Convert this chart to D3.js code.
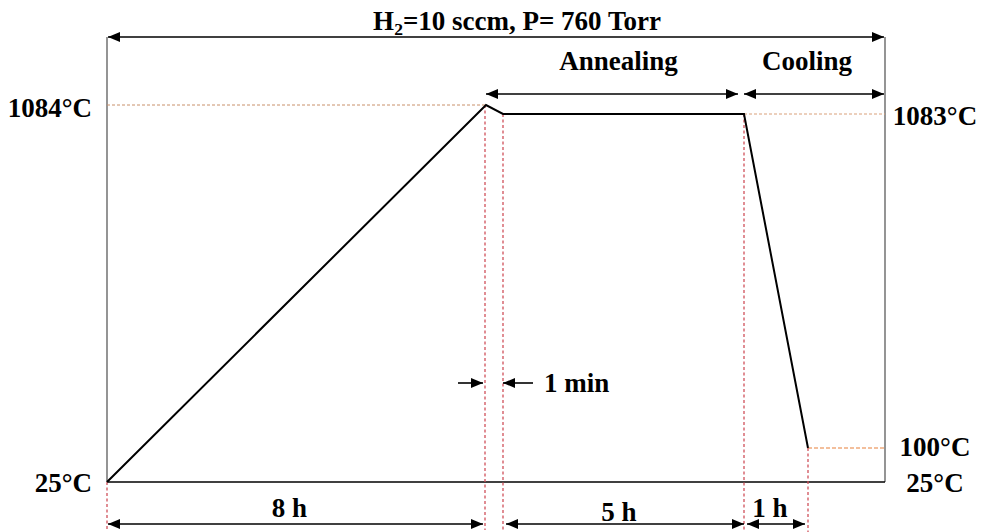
<!DOCTYPE html>
<html>
<head>
<meta charset="utf-8">
<script src="https://cdn.jsdelivr.net/npm/d3@7"></script>
<style>
  html, body { margin: 0; padding: 0; background: #fff; }
  svg { display: block; }
  text { font-family: "Liberation Serif", "Times New Roman", serif; font-weight: bold; fill: #000; }
</style>
</head>
<body>
<svg id="chart" width="986" height="532"></svg>
<script>
// Heating profile: elapsed time (min) and temperature (°C) at each break point
const times = [0, 480, 481, 781, 841];
const temps = [25, 1084, 1083, 1083, 100];

// Schematic (piecewise) axes: break points in data units
const timeBreaks = [0, 480, 481, 781, 841];
const tempBreaks = [25, 100, 1083, 1084];

// Labels
const title = ["H", "2", "=10 sccm, P= 760 Torr"];
const leftTempLabels = [{ t: 1084, text: "1084°C" }, { t: 25, text: "25°C" }];
const rightTempLabels = [{ t: 1083, text: "1083°C" }, { t: 100, text: "100°C" }, { t: 25, text: "25°C" }];
const phaseLabels = [
  { from: 480, to: 781, text: "Annealing" },
  { from: 781, to: null, text: "Cooling" }
];
const durationLabels = [
  { from: 0, to: 480, text: "8 h" },
  { from: 481, to: 781, text: "5 h" },
  { from: 781, to: 841, text: "1 h" }
];
const stepLabel = "1 min";

const svg = d3.select("#chart");
const fL = 107, fR = 885, fT = 37, fB = 482;

const x = d3.scaleLinear().domain(timeBreaks).range([fL, 486, 503, 744, 808]);
const y = d3.scaleLinear().domain(tempBreaks).range([fB, 448, 114, 105]);

const FS = 27;

// Arrow heads
const defs = svg.append("defs");
function marker(id, dir) {
  const m = defs.append("marker")
    .attr("id", id).attr("viewBox", "0 0 12 10")
    .attr("refX", dir === "end" ? 12 : 0).attr("refY", 5)
    .attr("markerWidth", 12).attr("markerHeight", 10)
    .attr("markerUnits", "userSpaceOnUse").attr("orient", "auto");
  m.append("path").attr("d", dir === "end" ? "M0,0L12,5L0,10Z" : "M12,0L0,5L12,10Z").attr("fill", "#000");
}
marker("ah-end", "end");
marker("ah-start", "start");

function arrow(x1, x2, yy, both) {
  svg.append("line")
    .attr("x1", x1).attr("x2", x2).attr("y1", yy).attr("y2", yy)
    .attr("stroke", "#000").attr("stroke-width", 1.6)
    .attr("marker-end", "url(#ah-end)")
    .attr("marker-start", both ? "url(#ah-start)" : null);
}

// Frame: side walls and base line
const frame = svg.append("g");
frame.append("line").attr("x1", fL).attr("x2", fL).attr("y1", fT).attr("y2", fB)
  .attr("stroke", "#7a7a7a").attr("stroke-width", 1.6);
frame.append("line").attr("x1", fR).attr("x2", fR).attr("y1", fT).attr("y2", fB)
  .attr("stroke", "#7a7a7a").attr("stroke-width", 1.6);
frame.append("line").attr("x1", fL).attr("x2", fR).attr("y1", fB).attr("y2", fB)
  .attr("stroke", "#000").attr("stroke-width", 1.6);

// Guide lines
const guides = svg.append("g").attr("fill", "none");
guides.append("line").attr("x1", fL).attr("x2", x(480)).attr("y1", y(1084)).attr("y2", y(1084))
  .attr("stroke", "#c8906a").attr("stroke-width", 1).attr("stroke-dasharray", "3,2");
guides.append("line").attr("x1", x(781)).attr("x2", fR).attr("y1", y(1083)).attr("y2", y(1083))
  .attr("stroke", "#d9a07a").attr("stroke-width", 1).attr("stroke-dasharray", "3,2");
guides.append("line").attr("x1", x(841)).attr("x2", fR).attr("y1", y(100)).attr("y2", y(100))
  .attr("stroke", "#e8803a").attr("stroke-width", 1.2).attr("stroke-dasharray", "4,2");

const vGuides = [
  { t: 0, y0: 25, y1: 530 },
  { t: 480, y0: 1084, y1: 530 },
  { t: 481, y0: 1083, y1: 530 },
  { t: 781, y0: 1083, y1: 532 },
  { t: 841, y0: 100, y1: 532 }
];
guides.selectAll("line.v").data(vGuides).join("line").attr("class", "v")
  .attr("x1", d => x(d.t) - (d.t === 480 ? 1 : 0)).attr("x2", d => x(d.t) - (d.t === 480 ? 1 : 0))
  .attr("y1", d => y(d.y0)).attr("y2", d => d.y1)
  .attr("stroke", "#d0505a").attr("stroke-width", 1.3).attr("stroke-dasharray", "3,2.5");

// Temperature profile
svg.append("path")
  .datum(times.map((t, i) => [t, temps[i]]))
  .attr("fill", "none").attr("stroke", "#000").attr("stroke-width", 2)
  .attr("stroke-linejoin", "miter")
  .attr("d", d3.line().x(d => x(d[0])).y(d => y(d[1])));

// Title with subscript
const tt = svg.append("text").attr("x", 517).attr("y", 30).attr("text-anchor", "middle").attr("font-size", FS);
tt.append("tspan").text(title[0]);
tt.append("tspan").attr("font-size", FS * 0.65).attr("dy", 5).text(title[1]);
tt.append("tspan").attr("dy", -5).text(title[2]);
arrow(fL + 1, fR - 1, fT, true);

// Phase arrows and labels
const phaseArrows = [[x(480), x(781) - 6], [x(781), fR - 1]];
const phaseShift = [6.5, -7];
phaseLabels.forEach((p, i) => {
  const [x1, x2] = phaseArrows[i];
  arrow(x1, x2, 94, true);
  svg.append("text").attr("x", (x1 + x2) / 2 + phaseShift[i]).attr("y", 70)
    .attr("text-anchor", "middle").attr("font-size", FS).text(p.text);
});

// Duration arrows and labels
const durPad = [[1, 3], [3, 0], [3, 3]];
durationLabels.forEach((d, i) => {
  const x1 = x(d.from) + durPad[i][0], x2 = x(d.to) - durPad[i][1];
  arrow(x1, x2, 524, true);
  svg.append("text").attr("x", (x1 + x2) / 2 - 6).attr("y", i === 1 ? 521 : 517)
    .attr("text-anchor", "middle").attr("font-size", FS).text(d.text);
});

// One-minute step marker
arrow(x(480) - 28, x(480) - 3, 383, false);
arrow(x(481) + 30, x(481), 383, false);
svg.append("text").attr("x", 544).attr("y", 392).attr("font-size", FS).text(stepLabel);

// Temperature labels
svg.selectAll("text.lt").data(leftTempLabels).join("text").attr("class", "lt")
  .attr("x", 92).attr("y", d => y(d.t) + (d.t === 25 ? 10 : 12)).attr("text-anchor", "end")
  .attr("font-size", FS).text(d => d.text);
svg.selectAll("text.rt").data(rightTempLabels).join("text").attr("class", "rt")
  .attr("x", 935).attr("y", d => y(d.t) + (d.t === 1083 ? 11 : d.t === 100 ? 8 : 10)).attr("text-anchor", "middle")
  .attr("font-size", FS).text(d => d.text);
</script>
</body>
</html>
